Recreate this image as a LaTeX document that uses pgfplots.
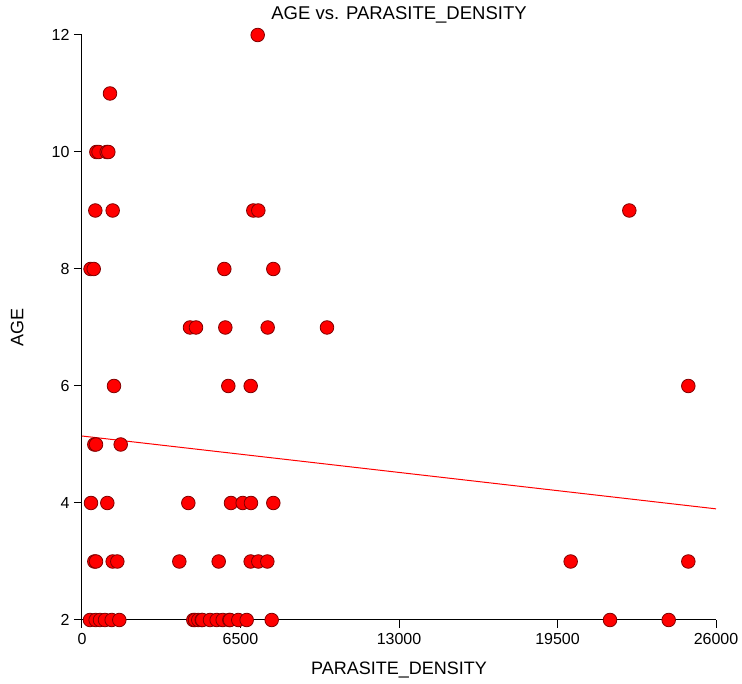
\documentclass[border=0pt]{standalone}
\usepackage{pgfplots}
\pgfplotsset{compat=1.18}
\usepackage{fontspec}
\setmainfont{Liberation Sans}
\usetikzlibrary{calc}
\definecolor{ptred}{RGB}{255,0,0}
\definecolor{ptedge}{RGB}{128,0,0}
\begin{document}
\begin{tikzpicture}
\begin{axis}[
  name=ax,
  scale only axis,
  width=634pt, height=585pt,
  xmin=0, xmax=26000, ymin=2, ymax=12,
  axis x line*=bottom, axis y line*=left,
  axis line style={black, line width=1pt},
  xtick={0,6500,13000,19500,26000},
  ytick={2,4,6,8,10,12},
  tick align=outside,
  major tick length=8pt,
  tick style={black, line width=1pt},
  scaled x ticks=false,
  /pgf/number format/1000 sep={},
  /pgf/number format/assume math mode=true,
  tick label style={font=\fontsize{16}{18}\selectfont},
  xticklabel style={yshift=-2pt},
  yticklabel style={xshift=-1pt},
  xlabel={PARASITE\_DENSITY},
  ylabel={AGE},
  label style={font=\fontsize{18}{20}\selectfont},
  xlabel style={at={(axis description cs:0.5,0)}, anchor=north, yshift=-38pt},
  ylabel style={at={(axis description cs:0,0.5)}, anchor=south, xshift=0pt, yshift=55pt},
  clip=false,
]
\addplot[ptred, line width=1pt] coordinates {(0,5.145) (26000,3.90)};
\addplot[only marks, mark=*, mark size=6.8pt,
  mark options={fill=ptred, draw=ptedge, line width=0.8pt}] coordinates {
(7205,12)
(1148,11)
(590,10) (680,10) (1013,10) (1080,10)
(546,9) (1258,9) (7026,9) (7231,9) (22445,9)
(350,8) (480,8) (5836,8) (7846,8)
(4429,7) (4675,7) (5877,7) (7615,7) (10047,7)
(1312,6) (6000,6) (6918,6) (24865,6)
(505,5) (574,5) (1587,5)
(369,4) (1038,4) (4360,4) (6110,4) (6590,4) (6930,4) (7846,4)
(505,3) (574,3) (1258,3) (1448,3) (3991,3) (5606,3) (6918,3) (7231,3) (7600,3) (20040,3) (24865,3)
(328,2) (560,2) (738,2) (943,2) (1218,2) (1530,2) (4565,2) (4634,2) (4770,2) (4909,2) (4934,2) (5249,2) (5524,2) (5770,2) (6041,2) (6069,2) (6410,2) (6754,2) (7779,2) (21653,2) (24060,2)
};
\end{axis}
\node[font=\fontsize{18.5}{20}\selectfont, anchor=base] at ($(ax.north)+(0,15pt)$) {AGE vs. PARASITE\_DENSITY};
\pgfresetboundingbox
\path[use as bounding box] ($(ax.south west)+(-82pt,-64pt)$) rectangle ($(ax.south west)+(660pt,620pt)$);
\end{tikzpicture}
\end{document}
